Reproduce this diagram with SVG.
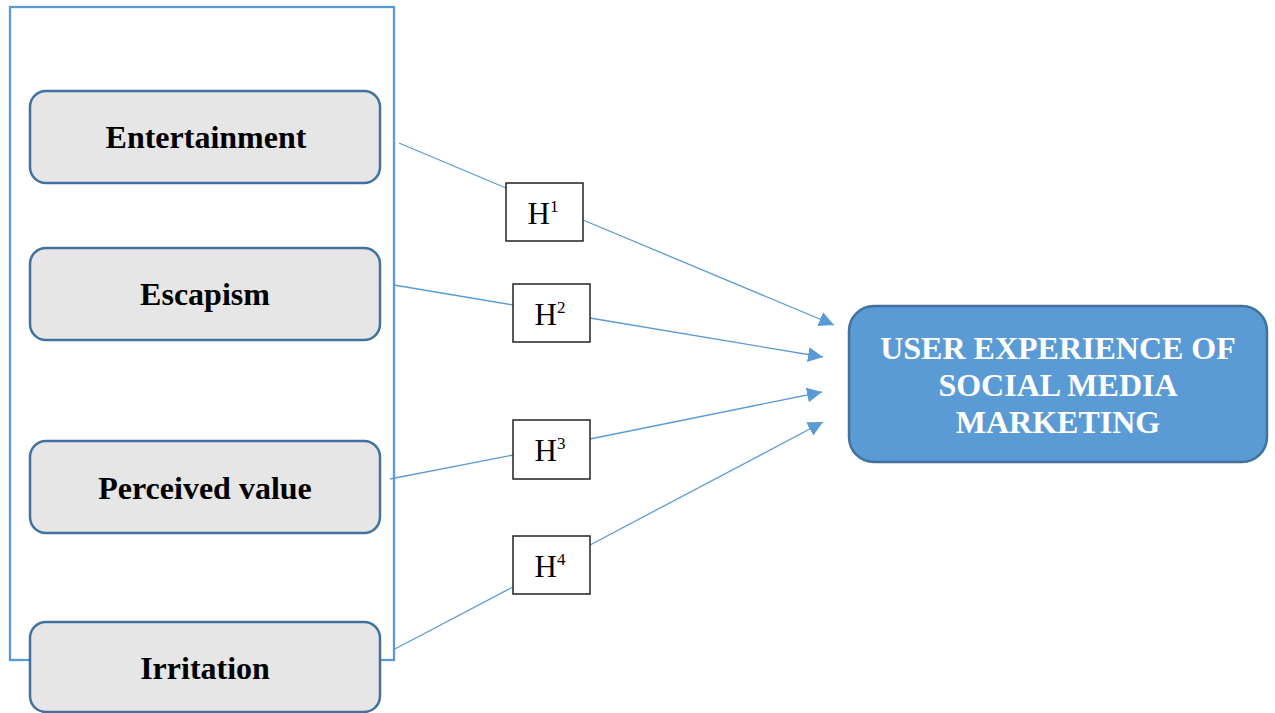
<svg xmlns="http://www.w3.org/2000/svg" width="1275" height="713" viewBox="0 0 1275 713">
<style>
.factor rect{fill:#e6e6e6;stroke:#41719c;stroke-width:2.5}
.factor text{font-family:"Liberation Serif",serif;font-weight:bold;font-size:32px;fill:#000;text-anchor:middle}
.hyp rect{fill:#fff;stroke:#222;stroke-width:1.5}
.hyp text{font-family:"Liberation Serif",serif;font-size:31px;fill:#000;text-anchor:middle}
.conn line{stroke:#5b9bd5;stroke-width:1.3}
.target rect{fill:#5b9bd5;stroke:#41719c;stroke-width:2.5}
.target text{font-family:"Liberation Serif",serif;font-weight:bold;font-size:32px;fill:#fff;text-anchor:middle}
</style>
<defs>
<marker id="arr" viewBox="0 0 10 10" refX="10" refY="5" markerWidth="15" markerHeight="15" markerUnits="userSpaceOnUse" orient="auto">
<path d="M0,0 L10,5 L0,10 z" fill="#5b9bd5"/>
</marker>
</defs>
<rect id="frame" x="10" y="7" width="384" height="653" fill="none" stroke="#5b9bd5" stroke-width="2.3"/>
<g class="conn" id="connectors">
<line x1="399" y1="143" x2="506" y2="188"/>
<line x1="583" y1="220" x2="834" y2="325" marker-end="url(#arr)"/>
<line x1="394" y1="285" x2="513" y2="305"/>
<line x1="590" y1="318" x2="823" y2="357" marker-end="url(#arr)"/>
<line x1="390" y1="479" x2="513" y2="455"/>
<line x1="590" y1="439" x2="822" y2="392" marker-end="url(#arr)"/>
<line x1="393" y1="650" x2="513" y2="587"/>
<line x1="590" y1="545" x2="823" y2="422" marker-end="url(#arr)"/>
</g>
<g id="entertainment" class="factor"><rect x="30" y="91" width="350" height="92" rx="16"/><text x="206" y="148">Entertainment</text></g>
<g id="escapism" class="factor"><rect x="30" y="248" width="350" height="92" rx="16"/><text x="205" y="305">Escapism</text></g>
<g id="perceived" class="factor"><rect x="30" y="441" width="350" height="92" rx="16"/><text x="205" y="499">Perceived value</text></g>
<g id="irritation" class="factor"><rect x="30" y="622" width="350" height="90" rx="16"/><text x="205" y="679">Irritation</text></g>
<g id="h1" class="hyp"><rect x="506" y="183" width="77" height="58"/><text x="543" y="224">H<tspan font-size="17" dy="-12">1</tspan></text></g>
<g id="h2" class="hyp"><rect x="513" y="284" width="77" height="58"/><text x="550" y="325">H<tspan font-size="17" dy="-12">2</tspan></text></g>
<g id="h3" class="hyp"><rect x="513" y="420" width="77" height="59"/><text x="550" y="461">H<tspan font-size="17" dy="-12">3</tspan></text></g>
<g id="h4" class="hyp"><rect x="513" y="536" width="77" height="58"/><text x="550" y="577">H<tspan font-size="17" dy="-12">4</tspan></text></g>
<g id="target" class="target"><rect x="849" y="306" width="418" height="156" rx="25"/>
<text x="1058" y="359">USER EXPERIENCE OF</text>
<text x="1058" y="396">SOCIAL MEDIA</text>
<text x="1058" y="433">MARKETING</text></g>
</svg>
